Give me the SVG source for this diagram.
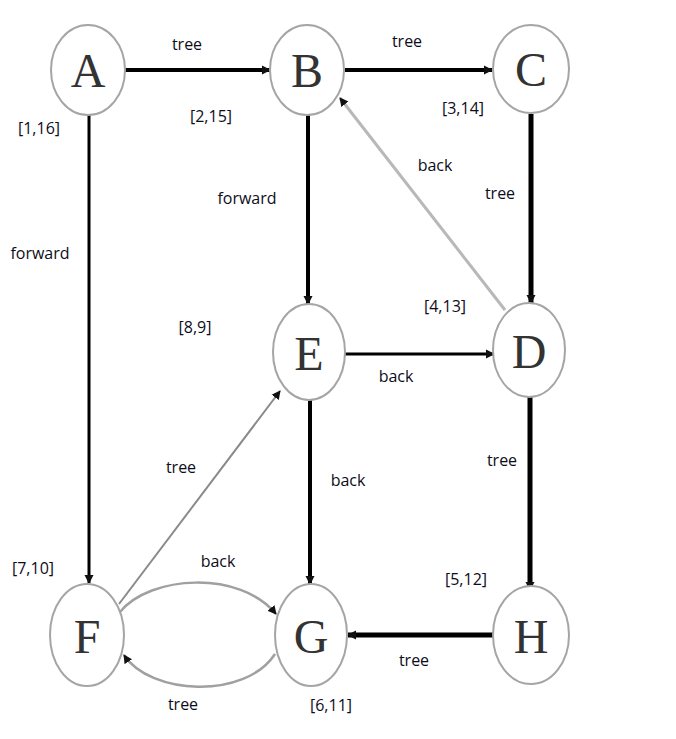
<svg xmlns="http://www.w3.org/2000/svg" width="676" height="739" viewBox="0 0 676 739">
<style>
.node ellipse{fill:#fff;stroke:#a5a5a5;stroke-width:2}
.node text{font-family:"Liberation Serif",serif;font-size:48px;fill:#333;text-anchor:middle}
.lbl{font-family:"Open Sans","Noto Sans",sans-serif;font-size:16px;fill:#0d0d1a;text-anchor:middle}
.ed{fill:none;stroke:#000}
.gr{fill:none;stroke:#b8b8b8}
</style>
<defs>
<marker id="ah" markerUnits="userSpaceOnUse" markerWidth="10" markerHeight="10" refX="8" refY="5" orient="auto">
<path d="M0,0.5 L9,5 L0,9.5 z" fill="#111"/>
</marker>
</defs>
<rect width="676" height="739" fill="#fff"/>
<g id="connectors">
<line class="ed" x1="125" y1="70" x2="270" y2="70" stroke-width="4" marker-end="url(#ah)"/>
<line class="ed" x1="345" y1="70" x2="492" y2="70" stroke-width="4" marker-end="url(#ah)"/>
<line class="ed" x1="531" y1="114" x2="531" y2="303" stroke-width="5" marker-end="url(#ah)"/>
<line class="gr" x1="505" y1="310" x2="340" y2="98" stroke-width="3" marker-end="url(#ah)"/>
<line class="ed" x1="308" y1="115" x2="308" y2="304" stroke-width="4" marker-end="url(#ah)"/>
<line class="ed" x1="89" y1="115" x2="89" y2="583" stroke-width="3" marker-end="url(#ah)"/>
<line class="ed" x1="345" y1="354" x2="494" y2="354" stroke-width="3" marker-end="url(#ah)"/>
<line class="ed" x1="310" y1="400" x2="310" y2="584" stroke-width="4" marker-end="url(#ah)"/>
<line class="ed" x1="530" y1="396" x2="530" y2="590" stroke-width="5" marker-end="url(#ah)"/>
<line class="ed" x1="493" y1="635" x2="348" y2="635" stroke-width="5" marker-end="url(#ah)"/>
<line x1="119" y1="604" x2="280" y2="391" stroke="#8a8a8a" stroke-width="2" fill="none" marker-end="url(#ah)"/>
<path d="M120,612 C150,575 240,570 276,614" stroke="#a0a0a0" stroke-width="2.5" fill="none" marker-end="url(#ah)"/>
<path d="M275,654 C245,700 150,695 124,655" stroke="#a0a0a0" stroke-width="2.5" fill="none" marker-end="url(#ah)"/>
</g>
<g id="node-A" class="node"><ellipse cx="88" cy="70" rx="37" ry="45"/><text x="88" y="87">A</text></g>
<g id="node-B" class="node"><ellipse cx="307" cy="70" rx="37" ry="45"/><text x="307" y="87">B</text></g>
<g id="node-C" class="node"><ellipse cx="531" cy="69" rx="38" ry="44"/><text x="531" y="86">C</text></g>
<g id="node-E" class="node"><ellipse cx="309" cy="352" rx="36" ry="48"/><text x="309" y="370">E</text></g>
<g id="node-D" class="node"><ellipse cx="529" cy="350" rx="36" ry="47"/><text x="529" y="368">D</text></g>
<g id="node-F" class="node"><ellipse cx="87" cy="635" rx="37" ry="51"/><text x="87" y="653">F</text></g>
<g id="node-G" class="node"><ellipse cx="311" cy="635" rx="36" ry="51"/><text x="311" y="653">G</text></g>
<g id="node-H" class="node"><ellipse cx="531" cy="635" rx="38" ry="49"/><text x="531" y="653">H</text></g>
<g id="labels">
<text class="lbl" x="187" y="50">tree</text>
<text class="lbl" x="407" y="47">tree</text>
<text class="lbl" x="39" y="134">[1,16]</text>
<text class="lbl" x="211" y="122">[2,15]</text>
<text class="lbl" x="463" y="114">[3,14]</text>
<text class="lbl" x="435" y="171">back</text>
<text class="lbl" x="500" y="199">tree</text>
<text class="lbl" x="247" y="204">forward</text>
<text class="lbl" x="40" y="259">forward</text>
<text class="lbl" x="195" y="333">[8,9]</text>
<text class="lbl" x="445" y="312">[4,13]</text>
<text class="lbl" x="396" y="382">back</text>
<text class="lbl" x="181" y="473">tree</text>
<text class="lbl" x="348" y="486">back</text>
<text class="lbl" x="502" y="466">tree</text>
<text class="lbl" x="33" y="574">[7,10]</text>
<text class="lbl" x="218" y="567">back</text>
<text class="lbl" x="466" y="585">[5,12]</text>
<text class="lbl" x="414" y="666">tree</text>
<text class="lbl" x="183" y="710">tree</text>
<text class="lbl" x="331" y="711">[6,11]</text>
</g>
</svg>
